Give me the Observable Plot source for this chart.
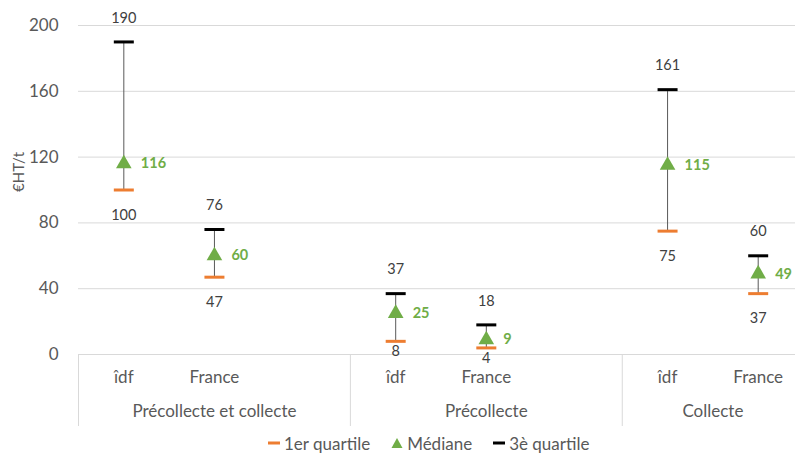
<!DOCTYPE html>
<html><head><meta charset="utf-8">
<script src="https://cdn.jsdelivr.net/npm/d3@7"></script>
<script src="https://cdn.jsdelivr.net/npm/@observablehq/plot@0.6"></script>
<style>
body{margin:0;background:#fff;font-family:Lato,"Noto Sans",sans-serif;width:795px;height:453px;overflow:hidden;}
#chart svg{display:block;}
#legend{display:flex;align-items:center;height:20px;margin-top:1px;padding-left:268px;font-size:17px;color:#595959;white-space:nowrap;}
#legend .item{display:flex;align-items:center;margin-right:21px;}
#legend svg{margin-right:4px;}
</style></head><body>
<div id="chart"></div>
<div id="legend"></div>
<script>
const groups = ["Précollecte et collecte", "Précollecte", "Collecte"];
const categories = [["îdf", "France", ""], ["îdf", "France", ""], ["îdf", "France"]];
const q1 = [100, 47, 8, 4, 75, 37];
const median = [116, 60, 25, 9, 115, 49];
const q3 = [190, 76, 37, 18, 161, 60];
const yTicks = [0, 40, 80, 120, 160, 200];
const yLabel = "€HT/t";
const seriesNames = ["1er quartile", "Médiane", "3è quartile"];
const seriesColors = ["#ED7D31", "#70AD47", "#000000"];

// build slots from categories
const slots = [];
const groupSpans = [];
let idx = 0;
groups.forEach((g, gi) => {
  const start = idx;
  categories[gi].forEach(c => { slots.push({i: idx, cat: c, group: g}); idx++; });
  groupSpans.push({group: g, start, end: idx});
});
const nSlots = idx;
const rows = slots.filter(s => s.cat !== "").map((s, k) => ({...s, q1: q1[k], median: median[k], q3: q3[k]}));
const separators = groupSpans.map(d => d.start - 0.5).concat([nSlots - 0.5]);
// labels near the bottom of the plot area are kept inside it (as the spreadsheet does)
const lowQ1 = rows.filter(d => d.q1 < 10);
const highQ1 = rows.filter(d => d.q1 >= 10);

const W = 795, H = 432, mTop = 25, mBottom = 78, mLeft = 78;
const frameH = H - mTop - mBottom;

const dash = {draw(ctx, size) { const r = Math.sqrt(size / Math.PI); ctx.moveTo(-r, 0); ctx.lineTo(r, 0); }};

const chart = Plot.plot({
  width: W, height: H,
  marginTop: mTop, marginBottom: mBottom, marginLeft: mLeft, marginRight: 0,
  style: {fontFamily: "Lato, 'Noto Sans', sans-serif", background: "#fff"},
  x: {type: "linear", domain: [-0.5, nSlots - 0.5], range: [mLeft, mLeft + 725], axis: null},
  y: {domain: [0, 200]},
  marks: [
    Plot.ruleY(yTicks, {stroke: "#d9d9d9", strokeWidth: 1}),
    Plot.axisY(yTicks, {tickSize: 0, tickPadding: 20, fontSize: 17, fill: "#595959", label: null}),
    Plot.text([yLabel], {frameAnchor: "left", rotate: -90, dx: -59, dy: 2, fontSize: 15, fill: "#595959"}),
    Plot.ruleX(separators, {stroke: "#d9d9d9", strokeWidth: 1, insetTop: frameH, insetBottom: -72}),
    Plot.ruleX(rows, {x: "i", y1: "q1", y2: "q3", stroke: "#595959", strokeWidth: 1}),
    Plot.dot(rows, {x: "i", y: "q1", symbol: dash, r: 10, stroke: seriesColors[0], strokeWidth: 3, fill: "none"}),
    Plot.dot(rows, {x: "i", y: "q3", symbol: dash, r: 10, stroke: seriesColors[2], strokeWidth: 3, fill: "none"}),
    Plot.dot(rows, {x: "i", y: "median", symbol: "triangle", r: 5.8, fill: seriesColors[1], stroke: "none"}),
    Plot.text(rows, {x: "i", y: "q3", text: d => String(d.q3), dy: -24, fill: "#404040", fontSize: 14.5}),
    Plot.text(highQ1, {x: "i", y: "q1", text: d => String(d.q1), dy: 25, fill: "#404040", fontSize: 14.5}),
    Plot.text(lowQ1, {x: "i", y: "q1", text: d => String(d.q1), dy: 10, fill: "#404040", fontSize: 14.5}),
    Plot.text(rows, {x: "i", y: "median", text: d => String(d.median), dx: 17, textAnchor: "start", fill: seriesColors[1], fontSize: 14.5, fontWeight: "bold"}),
    Plot.text(slots.filter(s => s.cat !== ""), {x: "i", text: "cat", frameAnchor: "bottom", dy: 28, fill: "#595959", fontSize: 17}),
    Plot.text(groupSpans, {x: d => (d.start + d.end - 1) / 2, text: "group", frameAnchor: "bottom", dy: 62, fill: "#595959", fontSize: 17})
  ]
});
document.getElementById("chart").appendChild(chart);

// legend
const legend = document.getElementById("legend");
seriesNames.forEach((name, k) => {
  const item = document.createElement("div");
  item.className = "item";
  let marker;
  if (k === 1) {
    marker = `<svg width="12" height="12"><path d="M6,1L11.5,11H0.5Z" fill="${seriesColors[k]}"/></svg>`;
  } else {
    marker = `<svg width="12" height="12"><line x1="0" x2="12" y1="6" y2="6" stroke="${seriesColors[k]}" stroke-width="3"/></svg>`;
  }
  item.innerHTML = marker + `<span>${name}</span>`;
  legend.appendChild(item);
});
</script>
</body></html>
